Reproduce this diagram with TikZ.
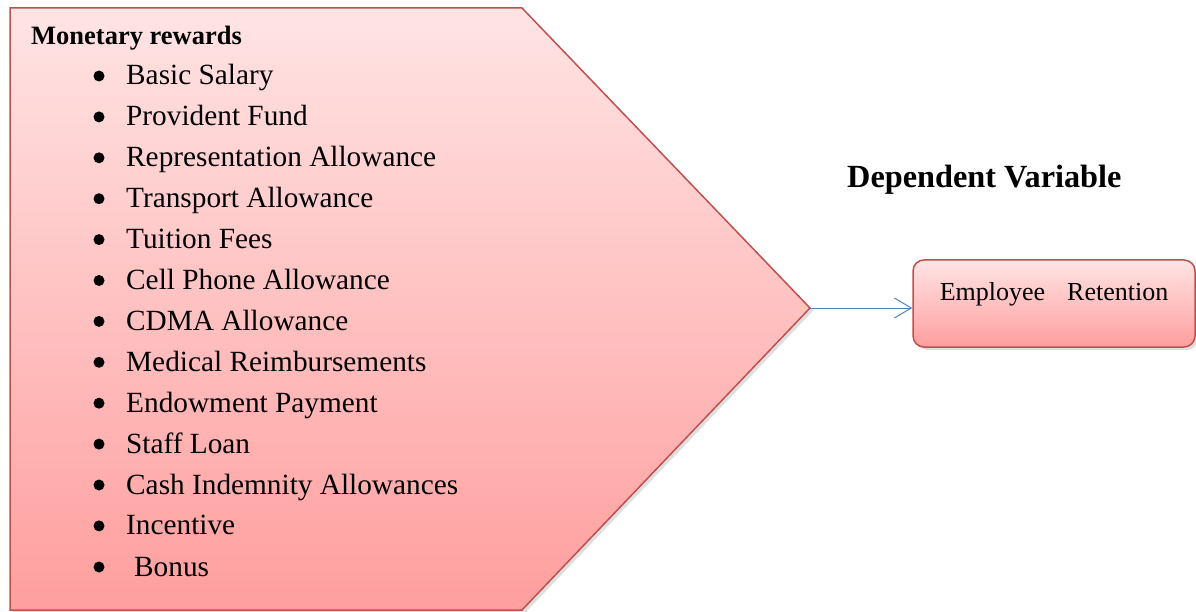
\documentclass[tikz,border=0pt]{standalone}
\usepackage{fontspec}
\setmainfont{Liberation Serif}
\usetikzlibrary{arrows.meta,shadows}
\definecolor{rline}{RGB}{192,80,77}
\definecolor{rtop}{RGB}{255,228,228}
\definecolor{rbot}{RGB}{255,158,158}
\definecolor{ablue}{RGB}{79,129,189}
\tikzset{
  item/.style={anchor=base west,inner sep=0pt,font=\fontsize{29.3}{34}\selectfont},
  dot/.style={circle,fill=black,inner sep=0pt,minimum size=11pt},
  pinkfill/.style={draw=rline,line width=1.5pt,top color=rtop,bottom color=rbot,
    drop shadow={opacity=0.25,shadow xshift=3pt,shadow yshift=-3pt}},
}
\begin{document}
\begin{tikzpicture}[x=1pt,y=-1pt]
\useasboundingbox (0,0) rectangle (1196,612);
% pentagon
\path[pinkfill] (10,8) -- (522,8) -- (810,308) -- (522,610) -- (10,610) -- cycle;
\coordinate (tip) at (810,308);
\node[anchor=base west,inner sep=0pt,font=\fontsize{26.5}{30}\selectfont\bfseries] (title) at (31,45) {Monetary rewards};
\foreach \t [count=\i] in {Basic Salary,Provident Fund,Representation Allowance,Transport Allowance,Tuition Fees,Cell Phone Allowance,CDMA Allowance,Medical Reimbursements,Endowment Payment,Staff Loan,Cash Indemnity Allowances,Incentive}{
  \node[item] (it\i) at (126,{85+40.9*(\i-1)}) {\t};
  \node[dot] (b\i) at (99,{76+40.9*(\i-1)}) {};
}
\node[item] (it13) at (134,576) {Bonus};
\node[dot] (b13) at (99,567) {};
% dependent variable
\node[anchor=base west,inner sep=0pt,font=\fontsize{32.3}{36}\selectfont\bfseries] (dv) at (847,188) {Dependent Variable};
\node[pinkfill,rounded corners=11pt,minimum width=282pt,minimum height=87pt,inner sep=0pt,
  text height=15pt,text depth=22pt,font=\fontsize{26}{30}\selectfont] (er) at (1054,303.5) {Employee\hspace{22pt}Retention};
\draw[ablue,line width=1pt,-{Straight Barb[length=17pt,width=20pt,line width=1pt]}] (tip) -- (tip -| er.west);
\end{tikzpicture}
\end{document}
